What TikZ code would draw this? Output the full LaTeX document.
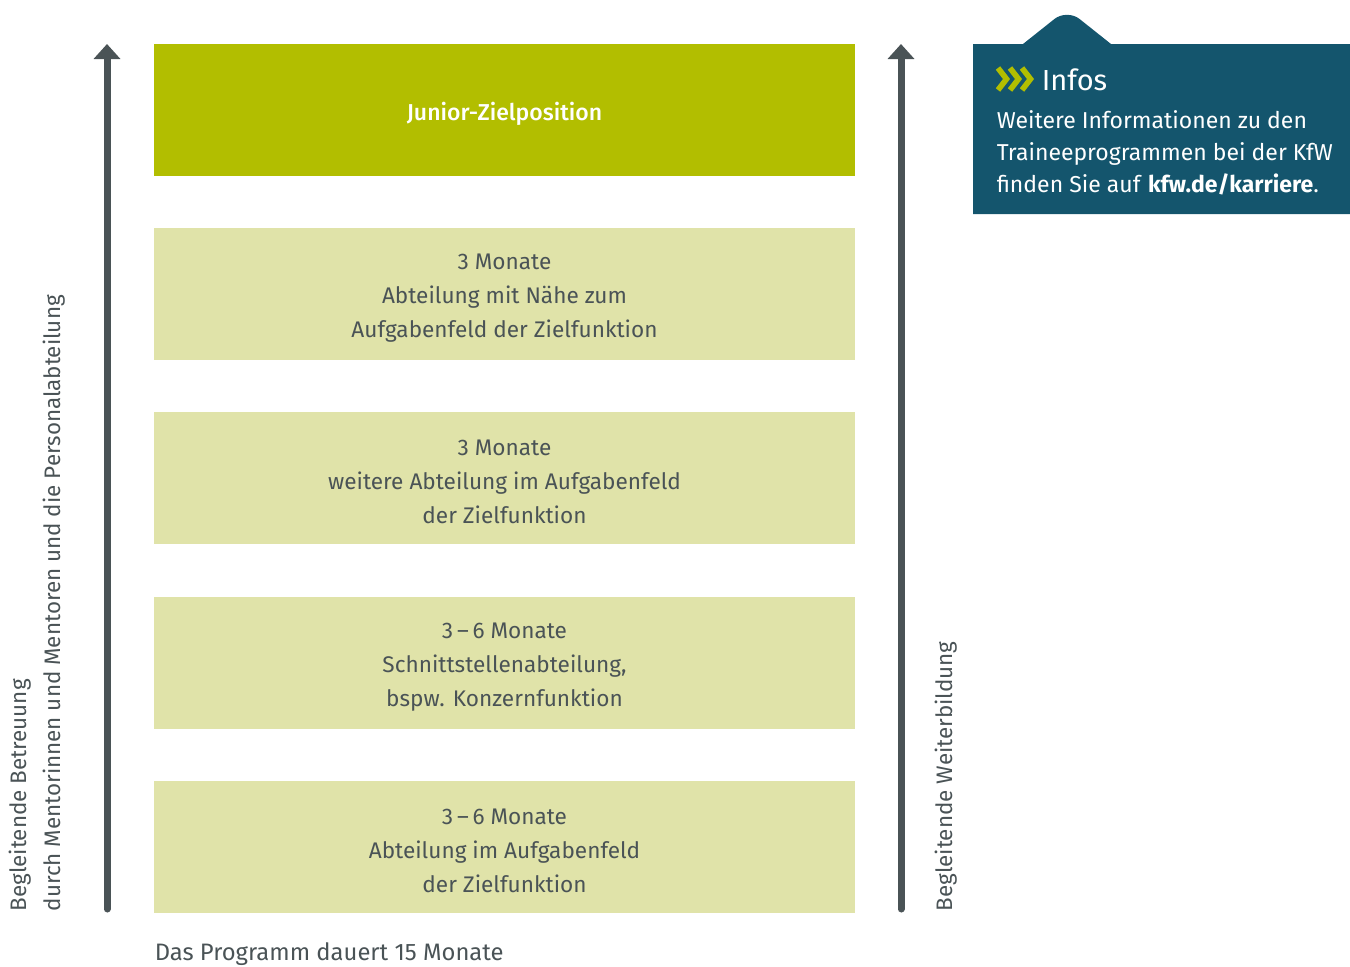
\documentclass[tikz,border=0pt]{standalone}
\usepackage{fontspec}
\setmainfont{Fira Sans}
\newfontface\firamedium{Fira Sans Medium}
\usetikzlibrary{arrows.meta}
\definecolor{kfwgreen}{HTML}{B2BE00}
\definecolor{kfwpale}{HTML}{E0E3A9}
\definecolor{kfwblue}{HTML}{14556D}
\definecolor{kfwgray}{HTML}{4A5356}
\tikzset{every picture/.style={line width=0.75pt}}

\begin{document}
\begin{tikzpicture}[x=0.5pt,y=0.5pt,yscale=-1,xscale=1,
  phase/.style={fill=kfwpale, draw=none, minimum width=350.5pt, minimum height=66pt, inner sep=0pt},
  phasetext/.style={inner sep=0pt, align=center, text=kfwgray, font=\fontsize{11.3}{17}\selectfont},
  target/.style={phase, fill=kfwgreen},
  targettext/.style={inner sep=0pt, text=white, font=\fontsize{11.5}{17}\firamedium},
  upline/.style={draw=kfwgray, line width=3.5pt, line cap=round, -{Triangle[width=13pt,length=7.5pt]}},
  sidelabel/.style={rotate=90, inner sep=0pt, align=left, text=kfwgray, font=\fontsize{11.2}{17}\selectfont}]
\useasboundingbox (0,0) rectangle (1350,966);

% Phase boxes
\node [target] (ziel) at (504.5,110) {};
\node [phase] (p4) at (504.5,294) {};
\node [phase] (p3) at (504.5,478) {};
\node [phase] (p2) at (504.5,663) {};
\node [phase] (p1) at (504.5,847) {};

% Text Node
\node [targettext] (zieltext) at ([yshift=2pt]ziel.center) {Junior-Zielposition};
% Text Node
\node [phasetext] (p4text) at ([yshift=2pt]p4.center) {3 Monate\\Abteilung mit Nähe zum\\Aufgabenfeld der Zielfunktion};
% Text Node
\node [phasetext] (p3text) at ([yshift=2pt]p3.center) {3 Monate\\weitere Abteilung im Aufgabenfeld\\der Zielfunktion};
% Text Node
\node [phasetext] (p2text) at ([yshift=2pt]p2.center) {3\,–\,6 Monate\\Schnittstellenabteilung,\\bspw. Konzernfunktion};
% Text Node
\node [phasetext] (p1text) at ([yshift=2pt]p1.center) {3\,–\,6 Monate\\Abteilung im Aufgabenfeld\\der Zielfunktion};

%Straight Lines 
\coordinate (lbot) at (107,909);
\coordinate (ltop) at (107,44);
\draw [upline] (lbot) -- (ltop);
%Straight Lines 
\coordinate (rbot) at (901,909);
\coordinate (rtop) at (901,44);
\draw [upline] (rbot) -- (rtop);

% Text Node
\node [sidelabel, anchor=north west] (betreuung) at (8,912) {Begleitende Betreuung\\durch Mentorinnen und Mentoren und die Personalabteilung};
% Text Node
\node [sidelabel, anchor=north west] (weiterbildung) at (934,912) {Begleitende Weiterbildung};
% Text Node
\node [anchor=west, inner sep=0pt, text=kfwgray, font=\fontsize{11.9}{17}\selectfont] (dauer) at (154,954) {Das Programm dauert 15 Monate};

%Shape: Info box with notch
\fill [kfwblue] (973,44) -- (1023,44) [rounded corners=8] -- (1067,9) [sharp corners] -- (1111,44) -- (1350,44) -- (1350,214) -- (973,214) -- cycle;
%Shape: Chevrons
\foreach \cx in {998,1010,1022}
  \draw [kfwgreen, line width=2.8pt, line join=miter] (\cx,68) -- (\cx+8.5,79) -- (\cx,90);
% Text Node
\node [anchor=west, inner sep=0pt, text=white, font=\fontsize{14.5}{17}\selectfont] (infos) at (1041,80) {Infos};
% Text Node
\node [anchor=north west, inner sep=0pt, align=left, text=white, font=\fontsize{11.5}{16}\selectfont] (infotext) at (996,110) {Weitere Informationen zu den\\Traineeprogrammen bei der KfW\\finden Sie auf \textbf{kfw.de/karriere}.};

\end{tikzpicture}
\end{document}
